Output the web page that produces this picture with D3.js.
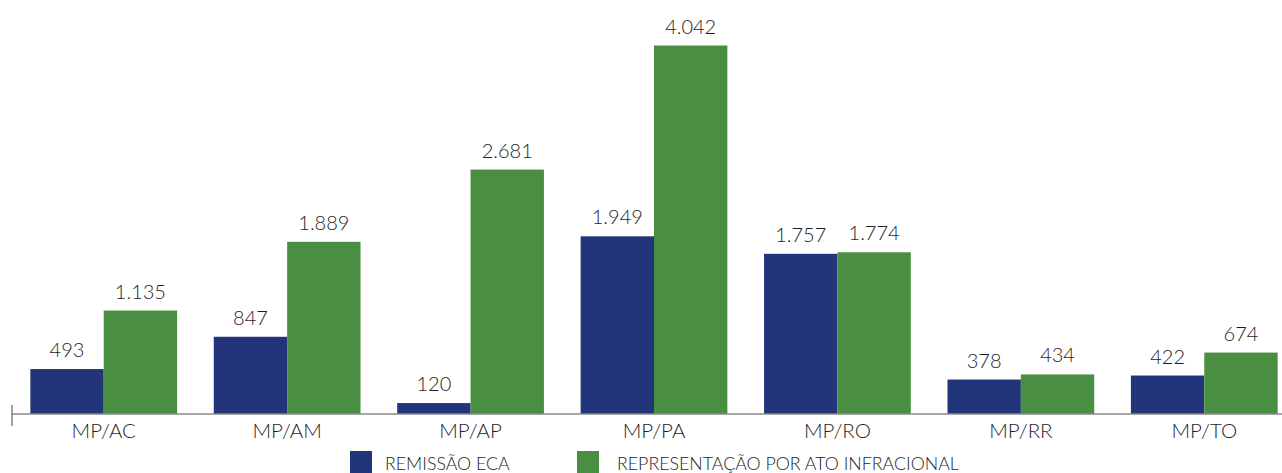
<!DOCTYPE html>
<html><head><meta charset="utf-8">
<script src="https://cdn.jsdelivr.net/npm/d3@7"></script>
<style>body{margin:0;background:#fff}svg{display:block}</style>
</head><body>
<svg id="c" width="1282" height="473"></svg>
<script>
const categories = ["MP/AC","MP/AM","MP/AP","MP/PA","MP/RO","MP/RR","MP/TO"];
const seriesNames = ["REMISSÃO ECA","REPRESENTAÇÃO POR ATO INFRACIONAL"];
const remissao = [493, 847, 120, 1949, 1757, 378, 422];
const representacao = [1135, 1889, 2681, 4042, 1774, 434, 674];
const colors = ["#22357a", "#4a8f41"];

const svg = d3.select("#c");
const fmt = d3.formatLocale({decimal:",", thousands:".", grouping:[3], currency:["R$",""]}).format(",d");
const font = "Lato, 'Open Sans', sans-serif";

const x = d3.scaleBand().domain(categories).range([12, 1296]).paddingInner(0.2).paddingOuter(0.1);
const xs = d3.scaleBand().domain([0,1]).range([0, x.bandwidth()]);
const y = d3.scaleLinear().domain([0, 4042]).range([414, 45.5]);

const data = [remissao, representacao];
data.forEach((vals, s) => {
  const g = svg.append("g");
  g.selectAll("rect").data(vals).join("rect")
    .attr("x", (d,i) => x(categories[i]) + xs(s))
    .attr("width", xs.bandwidth())
    .attr("y", d => y(d))
    .attr("height", d => y(0) - y(d))
    .attr("fill", colors[s]);
  g.selectAll("text").data(vals).join("text")
    .attr("x", (d,i) => x(categories[i]) + xs(s) + xs.bandwidth()/2)
    .attr("y", d => y(d) - 12)
    .attr("text-anchor", "middle")
    .attr("font-family", font).attr("font-weight", 300).attr("font-size", 20).attr("fill", "#1e1e1e")
    .text(d => fmt(d));
});

const axis = svg.append("g").attr("transform", `translate(0,${y(0)})`)
  .call(d3.axisBottom(x).tickSize(0).tickPadding(9));
axis.select(".domain").attr("stroke", "#888").attr("stroke-width", 1.5).attr("d", "M12,0H1282");
axis.selectAll("text").attr("font-family", font).attr("font-weight", 300).attr("font-size", 20.5).attr("fill", "#1e1e1e").attr("dy", "0.71em");
axis.append("line").attr("x1", 12).attr("x2", 12).attr("y1", -9).attr("y2", 12).attr("stroke", "#666").attr("stroke-width", 1.2);

const legX = [350, 577];
const leg = svg.append("g");
seriesNames.forEach((n, i) => {
  leg.append("rect").attr("x", legX[i]).attr("y", 451).attr("width", 22).attr("height", 22).attr("fill", colors[i]);
  leg.append("text").attr("x", legX[i] + 35 + (i ? 5 : 0)).attr("y", 469.5)
    .attr("font-family", font).attr("font-weight", 300).attr("font-size", 17.8).attr("fill", "#1e1e1e").text(n);
});
</script>
</body></html>
